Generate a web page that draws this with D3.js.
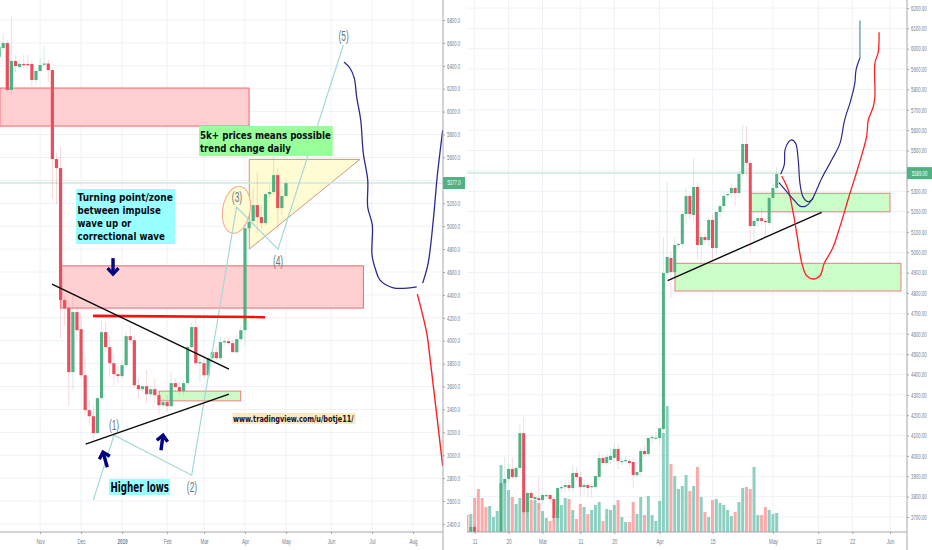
<!DOCTYPE html>
<html><head><meta charset="utf-8">
<script src="https://cdn.jsdelivr.net/npm/d3@7/dist/d3.min.js"></script>
<style>html,body{margin:0;padding:0;background:#fff;overflow:hidden}svg{display:block}text{font-family:"Liberation Sans",Arial,sans-serif}</style>
</head><body><svg id="c" width="932" height="550"></svg>
<script>
// ---------- left chart data (3-day bars) ----------
const leftOpen=[6477,6555,6599,6189,6442,6390,6416,6416,6416,6276,6355,6411,6420,6363,5586,5507,4355,4285,3726,4250,4101,3699,3394,3341,3193,3499,4075,3944,3804,3708,3691,3787,4040,4005,3612,3577,3603,3533,3577,3525,3437,3464,3429,3630,3595,3560,3630,3944,4119,3804,3804,3699,3848,3900,3848,3988,3996,3979,3900,4014,4092,4983,5045,5184,5079,5027,5280,5298,5446,5158,5263];
const leftClose=[6564,6599,6189,6442,6398,6416,6410,6407,6276,6355,6407,6420,6363,5586,5507,4355,4285,3726,4250,4092,3699,3394,3341,3193,3499,4075,3944,3804,3708,3691,3787,4040,4005,3612,3577,3603,3533,3577,3525,3437,3464,3429,3630,3595,3560,3630,3944,4119,3804,3813,3699,3848,3900,3848,3988,3996,3979,3900,4014,4092,4983,5036,5184,5079,5027,5280,5298,5446,5158,5263,5376];
const leftHigh=[6669,6686,6625,6826,6494,6451,6494,6494,6451,6381,6468,6573,6451,6381,5638,5691,4389,4302,4389,4302,4223,3848,3481,3437,3507,4180,4162,4049,3891,3787,3830,4075,4136,4049,3673,3612,3743,3612,3673,3568,3499,3525,3726,3673,3638,3656,3961,4162,4206,3874,3874,3874,3935,3944,4031,4023,4023,4005,4049,4136,5010,5071,5341,5472,5184,5289,5359,5638,5507,5333,5420];
const leftLow=[6451,6538,6171,6162,6346,6381,6381,6381,6224,6224,6346,6398,6258,5237,5193,4023,4136,3437,3568,4005,3682,3350,3263,3132,3202,3481,3900,3682,3612,3630,3673,3761,3979,3586,3499,3551,3455,3499,3455,3350,3411,3376,3420,3551,3525,3525,3612,3935,3787,3638,3682,3673,3831,3831,3831,3961,3961,3900,3883,3988,3961,4948,5001,4940,4983,5001,5245,5272,4966,5097,5245];
const leftTickBars=[10,20,30,41,50,60,70,81,91,101];
const leftTickLabels=["Nov","Dec","2019","Feb","Mar","Apr","May","Jun","Jul","Aug"];
const leftPriceTicks=d3.range(2400,6801,200);
const leftLast=5377;

// ---------- right chart data (daily bars, first bar 9 Feb 2019) ----------
const rightOpen=[3610,3626,3651,3620,3610,3600,3590,3595,3600,3626,3867,3887,3936,3896,3941,4112,3724,3818,3788,3793,3783,3803,3808,3788,3695,3842,3847,3857,3842,3916,3896,3847,3857,3847,3847,3896,3990,3965,3980,3990,4034,3970,3975,3975,3970,3906,3921,4024,4009,4088,4088,4088,4132,4898,4972,4903,5036,5041,5188,5277,5183,5321,5036,5075,5060,5159,5021,5198,5227,5281,5291,5316,5291,5385,5532,5439,5129,5154,5168,5154,5144,5267,5316];
const rightClose=[3600,3651,3626,3610,3600,3590,3610,3605,3615,3867,3887,3936,3896,3941,4112,3724,3818,3793,3798,3783,3808,3808,3788,3695,3842,3847,3857,3842,3916,3896,3847,3857,3842,3852,3901,3990,3965,3995,4000,4034,3975,3975,3980,3965,3906,3921,4024,4009,4088,4093,4090,4136,4898,4977,4903,5036,5041,5188,5277,5188,5321,5036,5075,5060,5159,5021,5198,5227,5277,5286,5316,5291,5385,5532,5439,5129,5154,5168,5154,5149,5267,5316,5385];
const rightHigh=[3620,3660,3665,3640,3625,3620,3620,3625,3622,3880,3995,3965,3990,3945,4157,4190,3830,3835,3810,3896,3815,3825,3815,3800,3850,3880,3885,3880,3955,3945,3920,3885,3870,3865,3905,4020,4005,4015,4040,4055,4060,3995,3998,3985,3990,3925,4035,4050,4085,4110,4120,4136,5075,5345,5000,5075,5050,5200,5320,5295,5463,5340,5095,5095,5170,5183,5205,5240,5295,5300,5340,5325,5400,5625,5620,5450,5190,5185,5218,5165,5280,5340,5419];
const rightLow=[3580,3600,3610,3590,3585,3570,3570,3580,3580,3600,3855,3870,3885,3880,3930,3715,3700,3780,3770,3735,3765,3785,3770,3670,3680,3820,3820,3825,3825,3880,3805,3810,3800,3795,3835,3880,3950,3950,3960,3970,3935,3955,3965,3945,3845,3895,3905,3995,3995,4060,4075,4060,4110,4864,4776,4880,5020,5020,5140,5160,5150,4962,4913,5040,5030,4962,4990,5170,5210,5265,5270,5225,5270,5370,5370,4997,5051,5125,5134,5075,5134,5250,5300];
const rightVolume=[17,18,34,43,34,25,26,15,21,67,49,42,35,28,34,21,29,32,32,29,21,14,11,14,24,27,34,33,22,13,28,25,18,22,27,30,11,23,22,27,32,15,10,10,30,18,35,17,36,17,11,31,99,126,68,56,43,46,57,41,46,65,35,20,15,32,33,29,27,22,16,20,30,44,45,43,65,17,17,25,22,18,19];
const rightTickDays=[10,19,28,38,47,59,73,89,101,110,120];
const rightTickLabels=["11","20","Mar","11","20","Apr","15","May","13","22","Jun"];
const rightPriceTicks=d3.range(3700,6201,100);
const rightLast=5389;

// ---------- drawings, in [bar, price] (left) and [day since 1 Feb, price] (right) ----------
const leftRedZones=[[0.2,61,6206,5874],[15.03,88.9,4654,4285]];
const leftGreenZones=[[39.1,58.95,3560,3475]];
const leftTriangle=[[61.05,5583],[88.07,5583],[61.05,4800]];
const leftEllipse={bar:57.9,price:5143,barR:3.34,priceR:207};
const leftThickRed=[[22.9,4217],[64.9,4206]];
const leftBlackLines=[[[12.9,4494],[56.1,3752]],[[21.13,3097],[56.1,3534]]];
const leftWave=[[22.98,2608],[28.04,3175],[47,2826],[57.93,5167],[68.06,4800],[84,6582]];
const leftWaveLabels=[["(1)",28.04,3263],["(2)",47.07,2721],["(3)",58.05,5254],["(4)",68.06,4695],["(5)",84.06,6660]];
const leftNavyA=[[84.16,6433],[85.6,6381],[86.67,6293],[87.26,6127],[88.24,5927],[88.87,5638],[89.95,5403],[89.95,5167],[91.07,5010],[91,4748],[91.9,4617],[92.95,4529],[96.2,4462],[101.9,4471]];
const leftNavyB=[[103.36,4503],[104.7,4678],[105.95,5053],[106.9,5429],[108.25,5839]];
const leftRedPath=[[102.05,4407],[104.35,4066],[105.15,3848],[106.37,3481],[108.25,2907]];
const leftArrows=[[[27.8,4721],[27.8,4582]],[[26.4,2896],[25.35,3027]],[[39.5,3044],[40,3175]]];

const rightGreenZones=[[83.2,120,5290,5199],[63.07,122.9,4946,4810]];
const rightBlackLine=[[61.13,4861],[101.9,5196]];
const rightNavyA=[[90.6,5342],[92.64,5298],[94.57,5257],[96.16,5227],[97.67,5227],[99.26,5257],[101.9,5363],[104.55,5453],[106.75,5535],[107.8,5634],[108.35,5674],[109.4,5733],[110.7,5832],[111,5895],[112.04,5954]];
const rightTealTop=[[112.04,5954],[112.04,6138]];
const rightNavyB=[[91.05,5383],[92,5429],[92.2,5503],[93.06,5540],[93.96,5552],[95.02,5535],[95.7,5453],[96.16,5339],[97.04,5270],[98.36,5249],[99.68,5265]];
const rightRedPath=[[91.3,5375],[93.06,5306],[94.38,5192],[95.3,5093],[96.77,4938],[97.94,4885],[99.68,4869],[101.45,4885],[102.6,4946],[104.8,5020],[106.75,5126],[109.4,5290],[111.6,5420],[113.8,5568],[114.25,5650],[115.57,5715],[116,5764],[116,5928],[116.9,5985],[117.1,6081]];

// ---------- layout and styles ----------
const W=932,H=550,bottom=532;
const Lw=443, Rx0=467, Rx1=907;
const GREEN="#4fb283",RED="#eb4d5c",GRID="#eef2f6",AXIS="#a3a7ae",LABEL="#6f7d8c",NAVY="#2a2a90";
const svg=d3.select("#c");
const defs=svg.append("defs");
defs.append("clipPath").attr("id","cl").append("rect").attr("x",0).attr("y",0).attr("width",Lw).attr("height",bottom);
defs.append("clipPath").attr("id","cr").append("rect").attr("x",Rx0).attr("y",0).attr("width",Rx1-Rx0).attr("height",bottom);

const xL=d3.scaleLinear().domain([0,100]).range([-0.896,408.904]);
const yL=d3.scaleLinear().domain([2400,6800]).range([524,20]);
const xR0=d3.scaleTime().domain([Date.UTC(2019,1,1),Date.UTC(2019,5,1)]).range([436.8,890]);
const xR=d=>xR0(Date.UTC(2019,1,1)+d*864e5);
const yR=d3.scaleLinear().domain([3700,6200]).range([517,8]);
const yV=d3.scaleLinear().domain([0,130]).range([bottom,bottom-130]);

// narrows a text horizontally with a transform so that its real box stays correct
function squeeze(sel,f,target){
  sel.each(function(){
    const s=d3.select(this),w=this.getComputedTextLength();
    const k=target?target/w:f,x=+s.attr("x")||0,y=+s.attr("y")||0;
    s.attr("x",0).attr("y",0).attr("transform",`translate(${x},${y}) scale(${k},1)`);
  });
}
const line=(x,y,c)=>d3.line().x(d=>x(d[0])).y(d=>y(d[1])).curve(c||d3.curveLinear);

// backgrounds: grid
const gL=svg.append("g").attr("clip-path","url(#cl)");
const gR=svg.append("g").attr("clip-path","url(#cr)");
gL.selectAll(".h").data(leftPriceTicks).join("line").attr("x1",0).attr("x2",Lw).attr("y1",d=>yL(d)).attr("y2",d=>yL(d)).attr("stroke",GRID);
gL.selectAll(".v").data(leftTickBars).join("line").attr("x1",d=>xL(d)).attr("x2",d=>xL(d)).attr("y1",0).attr("y2",bottom).attr("stroke",GRID);
gR.selectAll(".h").data(rightPriceTicks).join("line").attr("x1",Rx0).attr("x2",Rx1).attr("y1",d=>yR(d)).attr("y2",d=>yR(d)).attr("stroke",GRID);
gR.selectAll(".v").data(rightTickDays).join("line").attr("x1",d=>xR(d)).attr("x2",d=>xR(d)).attr("y1",0).attr("y2",bottom).attr("stroke",GRID);

// left zones under candles
function zones(g,data,x,y,fill,stroke){
  g.selectAll(null).data(data).join("rect")
   .attr("x",d=>x(d[0])).attr("width",d=>x(d[1])-x(d[0])).attr("y",d=>y(d[2])).attr("height",d=>y(d[3])-y(d[2]))
   .attr("fill",fill).attr("stroke",stroke).attr("stroke-width",1);
}
zones(gL,leftRedZones,xL,yL,"#ffcfd2","#f2666c");
zones(gL,leftGreenZones,xL,yL,"#ccfbc8","#e8817e");
gL.append("path").attr("d",line(xL,yL)(leftTriangle)+"Z").attr("fill","#fffbd2").attr("stroke","#c89a82").attr("stroke-width",1);
const ex=xL(leftEllipse.bar),ey=yL(leftEllipse.price);
gL.append("ellipse").attr("cx",ex).attr("cy",ey)
  .attr("rx",xL(leftEllipse.bar+leftEllipse.barR)-ex).attr("ry",yL(leftEllipse.price-leftEllipse.priceR)-ey)
  .attr("transform",`rotate(10 ${ex} ${ey})`).attr("fill","#fffbd2").attr("stroke","#f2a98c").attr("stroke-width",1);
zones(gR,rightGreenZones,xR,yR,"#ccfdc9","#e8817e");

// price lines
gL.append("line").attr("x1",0).attr("x2",Lw).attr("y1",yL(leftLast)).attr("y2",yL(leftLast)).attr("stroke","#cfe8da").attr("stroke-width",1.5);
gR.append("line").attr("x1",Rx0).attr("x2",Rx1).attr("y1",yR(rightLast)).attr("y2",yR(rightLast)).attr("stroke","#cfe8da").attr("stroke-width",1.5);

// volume
const volX=i=>xR(8+i);
gR.selectAll(".vol").data(rightVolume).join("rect").attr("class","vol")
  .attr("x",(d,i)=>volX(i)-1.5).attr("width",3).attr("y",d=>yV(d)).attr("height",d=>bottom-yV(d))
  .attr("fill",(d,i)=>rightClose[i]>=rightOpen[i]?"#8dd0c2":"#fda9a9");

// candles
function candles(g,O,H_,L_,C,x,y,bw){
  const c=(i)=>C[i]>=O[i]?GREEN:RED;
  g.selectAll(null).data(O).join("line")
    .attr("x1",(d,i)=>x(i)).attr("x2",(d,i)=>x(i)).attr("y1",(d,i)=>y(H_[i])).attr("y2",(d,i)=>y(L_[i]))
    .attr("stroke",(d,i)=>c(i)).attr("stroke-opacity",0.22).attr("stroke-width",1);
  g.selectAll(null).data(O).join("rect")
    .attr("x",(d,i)=>x(i)-bw/2).attr("width",bw)
    .attr("y",(d,i)=>Math.min(y(O[i]),y(C[i]))).attr("height",(d,i)=>Math.max(1.2,Math.abs(y(O[i])-y(C[i]))))
    .attr("fill",(d,i)=>c(i));
}
candles(gL,leftOpen,leftHigh,leftLow,leftClose,i=>xL(i),yL,3.2);
candles(gR,rightOpen,rightHigh,rightLow,rightClose,volX,yR,3);

// left drawings
gL.append("path").attr("d",line(xL,yL)(leftWave)).attr("fill","none").attr("stroke","#a5d8d8").attr("stroke-width",1.2);
gL.append("path").attr("d",line(xL,yL)(leftThickRed)).attr("stroke","#ff0d0d").attr("stroke-width",2.6);
leftBlackLines.forEach(l=>gL.append("path").attr("d",line(xL,yL)(l)).attr("stroke","#0a0a0a").attr("stroke-width",1.5));
[leftNavyA,leftNavyB].forEach(p=>gL.append("path").attr("d",line(xL,yL,d3.curveCatmullRom)(p)).attr("fill","none").attr("stroke",NAVY).attr("stroke-width",1.3));
gL.append("path").attr("d",line(xL,yL,d3.curveCatmullRom)(leftRedPath)).attr("fill","none").attr("stroke","#ff2020").attr("stroke-width",1.4);
leftArrows.forEach(a=>{
  const [x1,y1,x2,y2]=[xL(a[0][0]),yL(a[0][1]),xL(a[1][0]),yL(a[1][1])];
  const t=Math.atan2(y2-y1,x2-x1),r=8,s=0.75;
  const hp=[[x2-r*Math.cos(t-s),y2-r*Math.sin(t-s)],[x2,y2],[x2-r*Math.cos(t+s),y2-r*Math.sin(t+s)]];
  gL.append("path").attr("d",`M${x1},${y1}L${x2},${y2}`).attr("stroke","#000080").attr("stroke-width",3.4);
  gL.append("path").attr("d",d3.line()(hp)).attr("fill","none").attr("stroke","#000080").attr("stroke-width",3.4);
});
gL.selectAll(null).data(leftWaveLabels).join("text").attr("x",d=>xL(d[1])).attr("y",d=>yL(d[2])+4.5)
  .attr("text-anchor","middle").attr("font-size",14).attr("fill","#64788c").text(d=>d[0]).call(squeeze,0.6);

// text boxes
function box(g,x,y,w,h,fill,lines,size){
  g.append("rect").attr("x",x).attr("y",y).attr("width",w).attr("height",h).attr("fill",fill);
  lines.forEach(l=>g.append("text").attr("x",l[0]).attr("y",l[1]).attr("font-size",size).attr("font-weight","bold")
    .style("font-family","'DejaVu Sans',sans-serif").attr("fill",l[4]||"#050a14").text(l[3]).call(squeeze,0,l[2]));
}
box(gL,199,126,133.7,30,"#99ff99",[[200,138.5,131,"5k+ prices means possible"],[200,151.5,91,"trend change daily"]],11);
box(gL,76,189,99,55,"#99ffff",[[77.5,201,95.5,"Turning point/zone"],[77.5,214,83.5,"between impulse"],[77.5,227,54,"wave up or"],[77.5,240,87.5,"correctional wave"]],11);
box(gL,109,479,61,16,"#99ffff",[[110.5,491.7,58.5,"Higher lows"]],13.5);
box(gL,232.3,413,123.4,11,"#ffe8c0",[[233,422,121,"www.tradingview.com/u/botje11/","#101030"]],9.5);

// right drawings
gR.append("path").attr("d",d3.line().x(d=>xR(d[0])).y(d=>yR(d[1]))(rightBlackLine)).attr("stroke","#0a0a0a").attr("stroke-width",1.4);
const lr=d3.line().x(d=>xR(d[0])).y(d=>yR(d[1])).curve(d3.curveCatmullRom);
gR.append("path").attr("d",lr(rightRedPath)).attr("fill","none").attr("stroke","#ff2020").attr("stroke-width",1.3);
[rightNavyA,rightNavyB].forEach(p=>gR.append("path").attr("d",lr(p)).attr("fill","none").attr("stroke",NAVY).attr("stroke-width",1.2));
gR.append("path").attr("d",lr(rightTealTop)).attr("fill","none").attr("stroke","#62a4b0").attr("stroke-width",1.4);

// axes
function styleAxis(g,f){
  g.selectAll("path.domain").remove();
  g.selectAll("line").attr("stroke",AXIS);
  g.selectAll("text").attr("fill",LABEL).attr("font-size",7).call(squeeze,f);
}
// the last-price tag covers the tick label next to it, so that label is left blank
const fmtL=d=>d===5400?"":d3.format(".1f")(d), fmtR=d=>d===5400?"":d3.format(".2f")(d);
const aL=svg.append("g").attr("transform",`translate(${Lw},0)`)
 .call(d3.axisRight(yL).tickValues(leftPriceTicks).tickFormat(fmtL).tickSize(2).tickPadding(2));
styleAxis(aL,0.62);
const aR=svg.append("g").attr("transform",`translate(${Rx1},0)`)
 .call(d3.axisRight(yR).tickValues(rightPriceTicks).tickFormat(fmtR).tickSize(2).tickPadding(2));
styleAxis(aR,0.62);
const aB=svg.append("g").attr("transform",`translate(0,${bottom})`)
 .call(d3.axisBottom(xL).tickValues(leftTickBars).tickFormat((d,i)=>leftTickLabels[i]).tickSize(2).tickPadding(5));
styleAxis(aB,0.66);
aB.selectAll("text").filter(function(){return this.textContent==="2019";}).attr("font-weight","bold");
const aC=svg.append("g").attr("transform",`translate(0,${bottom})`)
 .call(d3.axisBottom(d3.scaleLinear().domain([0,100]).range([xR(0),xR(100)])).tickValues(rightTickDays).tickFormat((d,i)=>rightTickLabels[i]).tickSize(2).tickPadding(5));
styleAxis(aC,0.66);
// axis frame lines
[[0,bottom,Lw,bottom],[Rx0,bottom,Rx1,bottom],[Lw,0,Lw,H],[Rx1,0,Rx1,H]].forEach(l=>
  svg.append("line").attr("x1",l[0]).attr("y1",l[1]).attr("x2",l[2]).attr("y2",l[3]).attr("stroke",AXIS).attr("stroke-width",1));

// last-price tags
function tag(x,w,y,txt){
  svg.append("rect").attr("x",x).attr("y",y-6).attr("width",w).attr("height",12).attr("fill",GREEN);
  svg.append("text").attr("x",x+w/2).attr("y",y+2.5).attr("text-anchor","middle").attr("font-size",7).attr("fill","#fff").text(txt).call(squeeze,0.62);
}
tag(Lw,22,yL(leftLast),d3.format(".1f")(leftLast));
tag(Rx1,25,yR(rightLast),d3.format(".2f")(rightLast));
</script></body></html>
